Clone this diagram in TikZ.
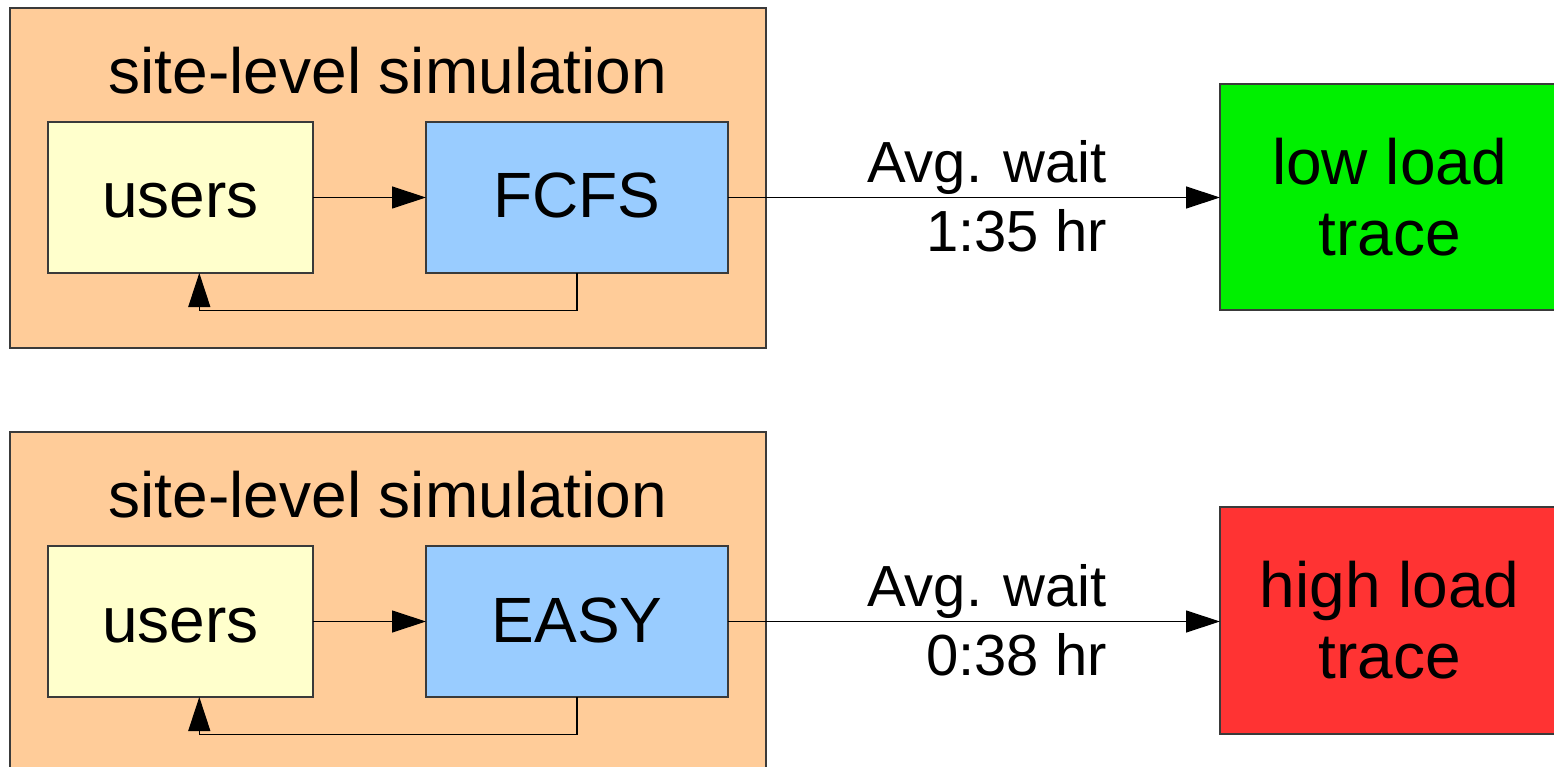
\documentclass[tikz,border=0pt]{standalone}
\usepackage{fontspec}
\setmainfont{Liberation Sans}
\usetikzlibrary{arrows.meta}
\definecolor{simorange}{HTML}{FFCC99}
\definecolor{useryellow}{HTML}{FFFFCC}
\definecolor{schedblue}{HTML}{99CCFF}
\definecolor{lowgreen}{HTML}{00F000}
\definecolor{highred}{HTML}{FF3333}
\definecolor{edgegray}{HTML}{3A3A3A}
\tikzset{
  boxbase/.style={draw=edgegray, line width=1.2pt, inner sep=0pt, outer sep=0pt},
  simbox/.style={boxbase, fill=simorange, minimum width=756pt, minimum height=340pt},
  userbox/.style={boxbase, fill=useryellow, minimum width=265pt, minimum height=151pt,
    font=\fontsize{64}{74}\selectfont, text height=41pt, text depth=0pt},
  schedbox/.style={boxbase, fill=schedblue, minimum width=302pt, minimum height=151pt,
    font=\fontsize{64}{74}\selectfont, text height=41pt, text depth=0pt},
  tracebox/.style={boxbase, minimum width=339pt, minimum height=226pt, align=center,
    font=\fontsize{64}{71}\selectfont},
  titletext/.style={inner sep=0pt, font=\fontsize{64}{74}\selectfont},
  waitlabel/.style={inner sep=0pt, align=right, anchor=east, font=\fontsize{58}{69}\selectfont},
  conn/.style={draw=black, line width=1.2pt, -{Triangle[length=34pt,width=22pt]}},
}
\begin{document}
\begin{tikzpicture}[x=1pt,y=-1pt]
\useasboundingbox (0,0) rectangle (1554,767);
\clip (0,0) rectangle (1554,767);
% ---------- top row ----------
\node[simbox] (sim1) at (388,178) {};
\node[titletext, anchor=base] (title1) at (388,93.3) {site-level simulation};
\node[userbox] (users1) at (180.5,197.5) {users};
\node[schedbox] (fcfs) at (577,197.5) {FCFS};
\node[tracebox, fill=lowgreen] (low) at (1389.5,197) {low load\\trace};
\node[waitlabel] (wait1) at (1107,196) {Avg. wait\\1:35 hr};
\draw[conn] (users1) -- (fcfs);
\draw[conn] (fcfs.south) -- ++(0,37.5) -| ([xshift=18.8pt]users1.south);
\draw[conn] (fcfs.east) -- (fcfs.east -| low.west);
% ---------- bottom row ----------
\node[simbox] (sim2) at (388,602) {};
\node[titletext, anchor=base] (title2) at (388,517.3) {site-level simulation};
\node[userbox] (users2) at (180.5,621.5) {users};
\node[schedbox] (easy) at (577,621.5) {EASY};
\node[tracebox, fill=highred, minimum height=227pt] (high) at (1389.5,620.5) {high load\\trace};
\node[waitlabel] (wait2) at (1107,620) {Avg. wait\\0:38 hr};
\draw[conn] (users2) -- (easy);
\draw[conn] (easy.south) -- ++(0,37.5) -| ([xshift=18.8pt]users2.south);
\draw[conn] (easy.east) -- (easy.east -| high.west);
\end{tikzpicture}
\end{document}
